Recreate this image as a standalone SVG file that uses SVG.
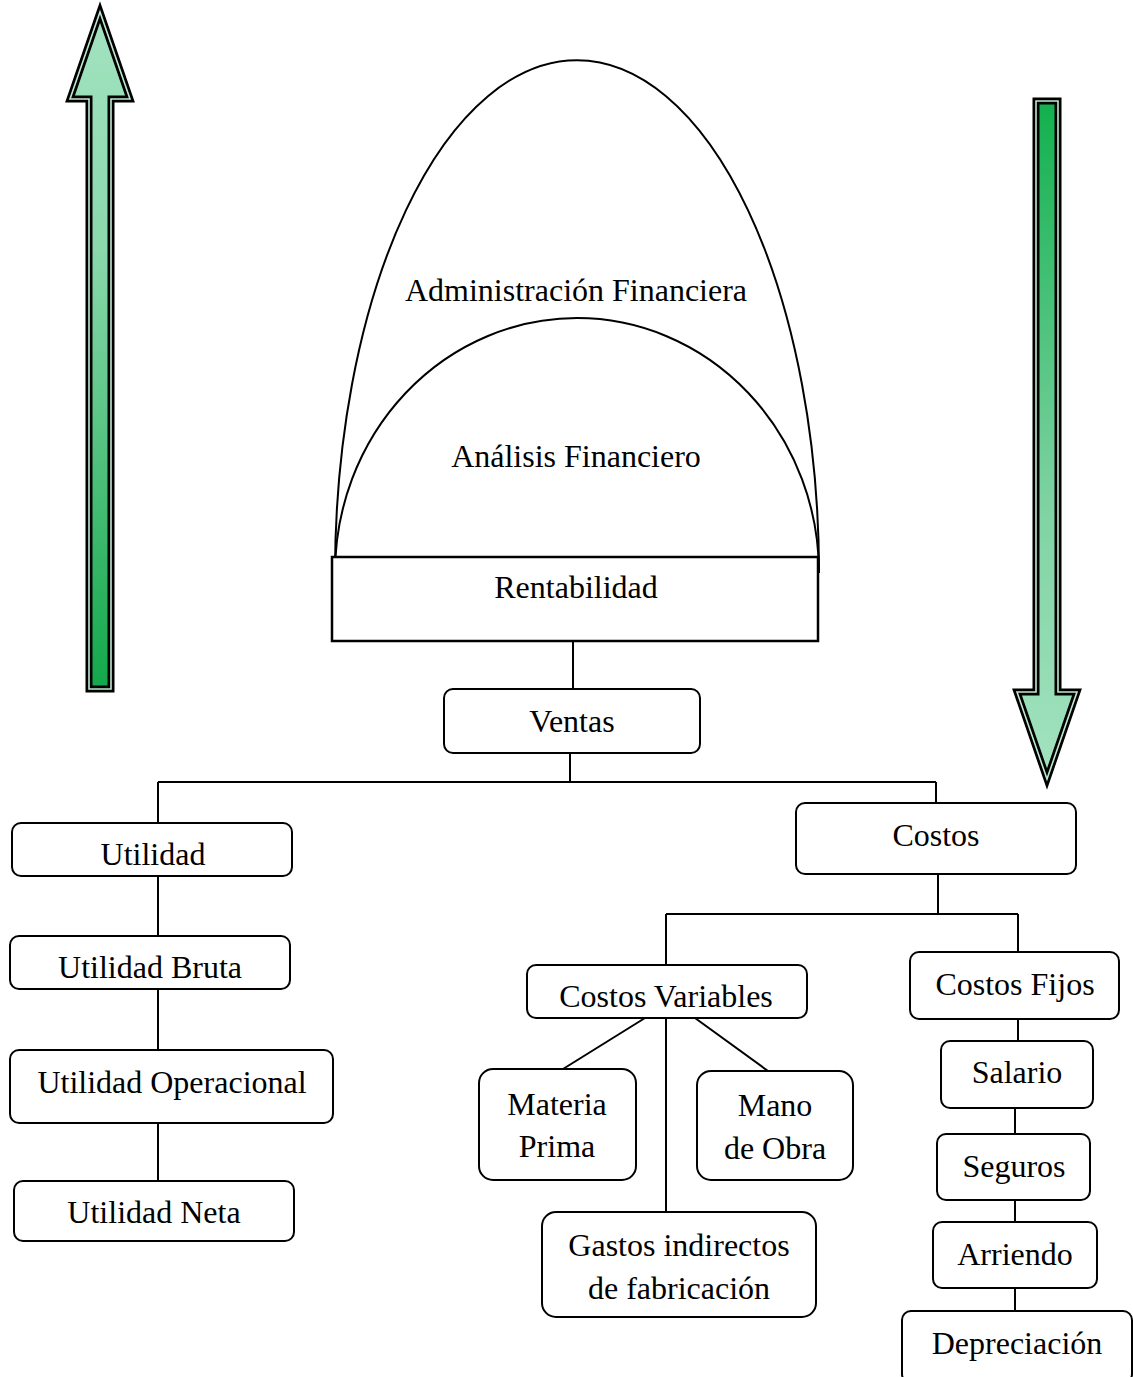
<svg xmlns="http://www.w3.org/2000/svg" width="1133" height="1377" viewBox="0 0 1133 1377">
  <style>
    .box { fill: #ffffff; stroke: #000000; stroke-width: 2; }
    .lbl { font-family: "Liberation Serif", "Times New Roman", serif; font-size: 32px; fill: #000000; text-anchor: middle; }
    .conn line, .conn path { stroke: #000000; stroke-width: 2; fill: none; }
    .arrow-out { stroke: #000000; stroke-width: 7; stroke-linejoin: miter; }
    .arrow-gap { fill: none; stroke: #bfead0; stroke-width: 1.6; stroke-linejoin: miter; }
    .arch { fill: none; stroke: #000000; stroke-width: 2; }
  </style>
  <defs>
    <linearGradient id="gUp" x1="0" y1="0" x2="0" y2="1">
      <stop offset="0" stop-color="#a3e3c0"/>
      <stop offset="0.35" stop-color="#8ad8ac"/>
      <stop offset="1" stop-color="#12a84a"/>
    </linearGradient>
    <linearGradient id="gDown" x1="0" y1="0" x2="0" y2="1">
      <stop offset="0" stop-color="#12b04e"/>
      <stop offset="0.6" stop-color="#7fd3a3"/>
      <stop offset="1" stop-color="#a3e3c0"/>
    </linearGradient>
  </defs>

  <rect width="1133" height="1377" fill="#ffffff"/>

  <!-- Upward arrow (left) -->
  <g id="arrow-up">
    <polygon class="arrow-out" fill="url(#gUp)" points="100,12 70,99 89,99 89,689 111,689 111,99 130,99"/>
    <polygon class="arrow-gap" points="100,12 70,99 89,99 89,689 111,689 111,99 130,99"/>
  </g>

  <!-- Downward arrow (right) -->
  <g id="arrow-down">
    <polygon class="arrow-out" fill="url(#gDown)" points="1036,101 1058,101 1058,692 1077,692 1047,779 1017,692 1036,692"/>
    <polygon class="arrow-gap" points="1036,101 1058,101 1058,692 1077,692 1047,779 1017,692 1036,692"/>
  </g>

  <!-- Arches -->
  <g id="administracion">
    <path class="arch" d="M335,573 A242,513 0 0 1 819,573"/>
    <text class="lbl" x="576" y="301">Administración Financiera</text>
  </g>
  <g id="analisis">
    <path class="arch" d="M335,573 A242,255 0 0 1 819,573"/>
    <text class="lbl" x="576" y="467">Análisis Financiero</text>
  </g>

  <g id="rentabilidad">
    <rect class="box" x="332" y="557" width="486" height="84" style="stroke-width:2.5"/>
    <text class="lbl" x="576" y="598">Rentabilidad</text>
  </g>

  <!-- Connectors -->
  <g id="connectors" class="conn">
    <line x1="573" y1="641" x2="573" y2="689"/>
    <path d="M570,753 V782 M158,782 H936 M158,782 V823 M936,782 V803"/>
    <line x1="158" y1="876" x2="158" y2="936"/>
    <line x1="158" y1="989" x2="158" y2="1050"/>
    <line x1="158" y1="1123" x2="158" y2="1181"/>
    <path d="M938,874 V914 M666,914 H1018 M666,914 V965 M1018,914 V952"/>
    <line x1="645" y1="1018" x2="563" y2="1069"/>
    <line x1="666" y1="1018" x2="666" y2="1212"/>
    <line x1="695" y1="1018" x2="768" y2="1071"/>
    <line x1="1018" y1="1019" x2="1018" y2="1041"/>
    <line x1="1015" y1="1108" x2="1015" y2="1134"/>
    <line x1="1015" y1="1200" x2="1015" y2="1222"/>
    <line x1="1015" y1="1288" x2="1015" y2="1311"/>
  </g>

  <g id="ventas">
    <rect class="box" x="444" y="689" width="256" height="64" rx="9"/>
    <text class="lbl" x="572" y="732">Ventas</text>
  </g>

  <g id="utilidad">
    <rect class="box" x="12" y="823" width="280" height="53" rx="9"/>
    <text class="lbl" x="153" y="865">Utilidad</text>
  </g>
  <g id="utilidad-bruta">
    <rect class="box" x="10" y="936" width="280" height="53" rx="9"/>
    <text class="lbl" x="150" y="978">Utilidad Bruta</text>
  </g>
  <g id="utilidad-operacional">
    <rect class="box" x="10" y="1050" width="323" height="73" rx="9"/>
    <text class="lbl" x="172" y="1093">Utilidad Operacional</text>
  </g>
  <g id="utilidad-neta">
    <rect class="box" x="14" y="1181" width="280" height="60" rx="9"/>
    <text class="lbl" x="154" y="1223">Utilidad Neta</text>
  </g>

  <g id="costos">
    <rect class="box" x="796" y="803" width="280" height="71" rx="9"/>
    <text class="lbl" x="936" y="846">Costos</text>
  </g>
  <g id="costos-variables">
    <rect class="box" x="527" y="965" width="280" height="53" rx="9"/>
    <text class="lbl" x="666" y="1007">Costos Variables</text>
  </g>
  <g id="costos-fijos">
    <rect class="box" x="910" y="952" width="209" height="67" rx="9"/>
    <text class="lbl" x="1015" y="995">Costos Fijos</text>
  </g>

  <g id="materia-prima">
    <rect class="box" x="479" y="1069" width="157" height="111" rx="14"/>
    <text class="lbl" x="557" y="1115">Materia</text>
    <text class="lbl" x="557" y="1157">Prima</text>
  </g>
  <g id="mano-obra">
    <rect class="box" x="697" y="1071" width="156" height="109" rx="14"/>
    <text class="lbl" x="775" y="1116">Mano</text>
    <text class="lbl" x="775" y="1159">de Obra</text>
  </g>
  <g id="gastos-indirectos">
    <rect class="box" x="542" y="1212" width="274" height="105" rx="14"/>
    <text class="lbl" x="679" y="1256">Gastos indirectos</text>
    <text class="lbl" x="679" y="1299">de fabricación</text>
  </g>

  <g id="salario">
    <rect class="box" x="941" y="1041" width="152" height="67" rx="9"/>
    <text class="lbl" x="1017" y="1083">Salario</text>
  </g>
  <g id="seguros">
    <rect class="box" x="937" y="1134" width="153" height="66" rx="9"/>
    <text class="lbl" x="1014" y="1177">Seguros</text>
  </g>
  <g id="arriendo">
    <rect class="box" x="933" y="1222" width="164" height="66" rx="9"/>
    <text class="lbl" x="1015" y="1265">Arriendo</text>
  </g>
  <g id="depreciacion">
    <rect class="box" x="902" y="1311" width="230" height="72" rx="9"/>
    <text class="lbl" x="1017" y="1354">Depreciación</text>
  </g>
</svg>
